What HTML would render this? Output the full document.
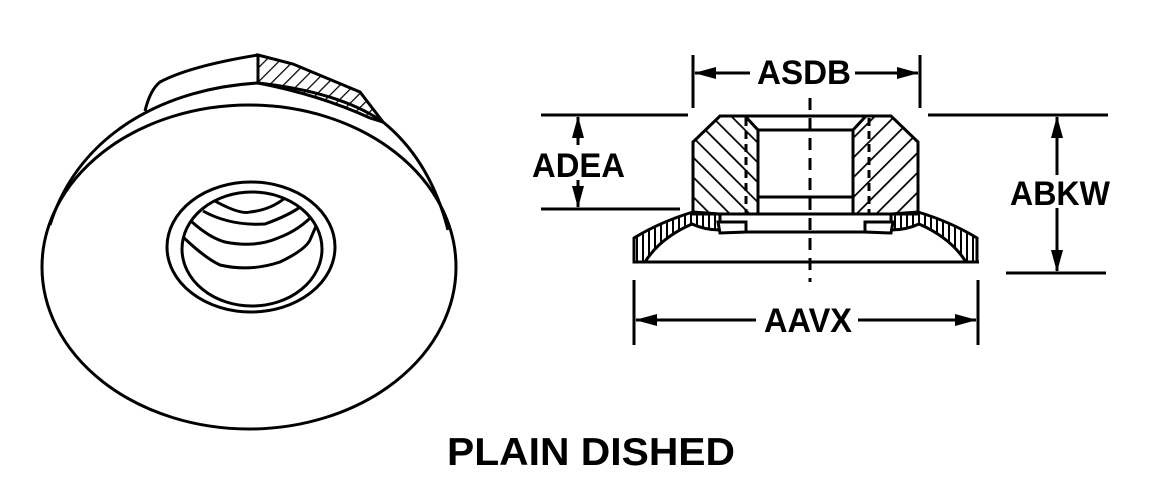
<!DOCTYPE html>
<html><head><style>html,body{margin:0;padding:0;background:#fff}svg{display:block}</style></head>
<body>
<svg width="1152" height="497" viewBox="0 0 1152 497" xmlns="http://www.w3.org/2000/svg">
<defs>
<pattern id="hL" patternUnits="userSpaceOnUse" width="14" height="14" patternTransform="rotate(-45)"><line x1="0" y1="0" x2="0" y2="14" stroke="#000" stroke-width="3.5"/></pattern>
<pattern id="hR" patternUnits="userSpaceOnUse" width="14" height="14" patternTransform="rotate(45)"><line x1="0" y1="0" x2="0" y2="14" stroke="#000" stroke-width="3.5"/></pattern>
<pattern id="hB" patternUnits="userSpaceOnUse" width="10" height="10" patternTransform="rotate(45)"><line x1="0" y1="0" x2="0" y2="10" stroke="#000" stroke-width="2.5"/></pattern>
<pattern id="hv" patternUnits="userSpaceOnUse" width="6" height="6"><line x1="1" y1="0" x2="1" y2="6" stroke="#000" stroke-width="2"/></pattern>
<clipPath id="inner"><ellipse cx="252" cy="249" rx="70" ry="57"/></clipPath>
<marker id="ar" markerWidth="22" markerHeight="12" refX="21" refY="6" orient="auto" markerUnits="userSpaceOnUse"><path d="M0,0 L22,6 L0,12Z" fill="#000"/></marker>
</defs>
<g fill="none" stroke="#000" stroke-width="3">
<!-- left view -->
<path d="M258,55 L293,64 L360,92 L383,122 L370,118 Q320,95 258,83 Z" fill="url(#hB)"/>
<path d="M145,111 Q150,90 160,82 Q190,66 258,55"/>
<path d="M50,225 C80,130 170,88 258,83 Q340,92 383,122 Q430,160 448,230"/>
<ellipse cx="249" cy="267" rx="207" ry="162"/>
<ellipse cx="251" cy="247" rx="84" ry="65"/>
<ellipse cx="252" cy="249" rx="70" ry="57"/>
<g clip-path="url(#inner)">
<path d="M213,200 Q240,215 250,212 Q270,210 285,198"/>
<path d="M203,211 Q230,226 265,224 Q290,215 303,205"/>
<path d="M192,222 Q210,238 225,242 Q255,248 278,238 Q300,230 316,212"/>
<path d="M183,237 Q205,258 220,265 Q250,272 280,262 Q305,250 310,240 Q315,228 320,218"/>
</g>
<!-- right view: nut -->
<path d="M720,116 L745,116 L758,130 L758,214 L693,214 L693,142 Z" fill="url(#hL)" stroke="none"/>
<path d="M891,116 L866,116 L853,130 L853,214 L918,214 L918,142 Z" fill="url(#hR)" stroke="none"/>
<path d="M720,116 L891,116 L918,142 L918,214 L693,214 L693,142 Z"/>
<path d="M745,116 L758,130 L758,214 M866,116 L853,130 L853,214"/>
<line x1="758" y1="130" x2="853" y2="130"/>
<line x1="758" y1="197" x2="853" y2="197"/>
<line x1="746" y1="118" x2="746" y2="214" stroke-dasharray="8,5"/>
<line x1="869" y1="118" x2="869" y2="214" stroke-dasharray="8,5"/>
<!-- flange -->
<path d="M634,238 Q660,222 693,212 L720,214 L720,230 Q705,230 692,224 Q660,238 645,262 L634,262 Z" fill="url(#hv)"/>
<path d="M977,238 Q951,222 918,212 L891,214 L891,230 Q906,230 919,224 Q951,238 966,262 L977,262 Z" fill="url(#hv)"/>
<path d="M718,222 L746,222 L746,232 L720,233 Z" fill="#fff"/>
<path d="M893,222 L865,222 L865,232 L891,233 Z" fill="#fff"/>
<line x1="746" y1="232" x2="866" y2="232"/>
<line x1="634" y1="262" x2="979" y2="262"/>
<line x1="810" y1="98" x2="810" y2="282" stroke-dasharray="12,8"/>
<!-- dimensions -->
<line x1="693" y1="55" x2="693" y2="108"/><line x1="920" y1="55" x2="920" y2="108"/>
<line x1="750" y1="73" x2="695" y2="73" marker-end="url(#ar)"/><line x1="855" y1="73" x2="918" y2="73" marker-end="url(#ar)"/>
<line x1="541" y1="115" x2="688" y2="115"/><line x1="541" y1="209" x2="680" y2="209"/>
<line x1="578" y1="145" x2="578" y2="117" marker-end="url(#ar)"/><line x1="578" y1="180" x2="578" y2="207" marker-end="url(#ar)"/>
<line x1="928" y1="115" x2="1108" y2="115"/><line x1="1006" y1="273" x2="1106" y2="273"/>
<line x1="1057" y1="175" x2="1057" y2="117" marker-end="url(#ar)"/><line x1="1057" y1="208" x2="1057" y2="271" marker-end="url(#ar)"/>
<line x1="634" y1="280" x2="634" y2="345"/><line x1="978" y1="280" x2="978" y2="345"/>
<line x1="756" y1="320" x2="636" y2="320" marker-end="url(#ar)"/><line x1="858" y1="320" x2="976" y2="320" marker-end="url(#ar)"/>
</g>
<g font-family="Liberation Sans, sans-serif" font-weight="bold" fill="#000">
<text x="757" y="84" font-size="34" textLength="94" lengthAdjust="spacingAndGlyphs">ASDB</text>
<text x="532" y="177" font-size="34" textLength="93" lengthAdjust="spacingAndGlyphs">ADEA</text>
<text x="1010" y="205" font-size="34" textLength="100" lengthAdjust="spacingAndGlyphs">ABKW</text>
<text x="764" y="332" font-size="34" textLength="88" lengthAdjust="spacingAndGlyphs">AAVX</text>
<text x="447" y="465" font-size="39" textLength="288" lengthAdjust="spacingAndGlyphs">PLAIN DISHED</text>
</g>
</svg>
</body></html>
